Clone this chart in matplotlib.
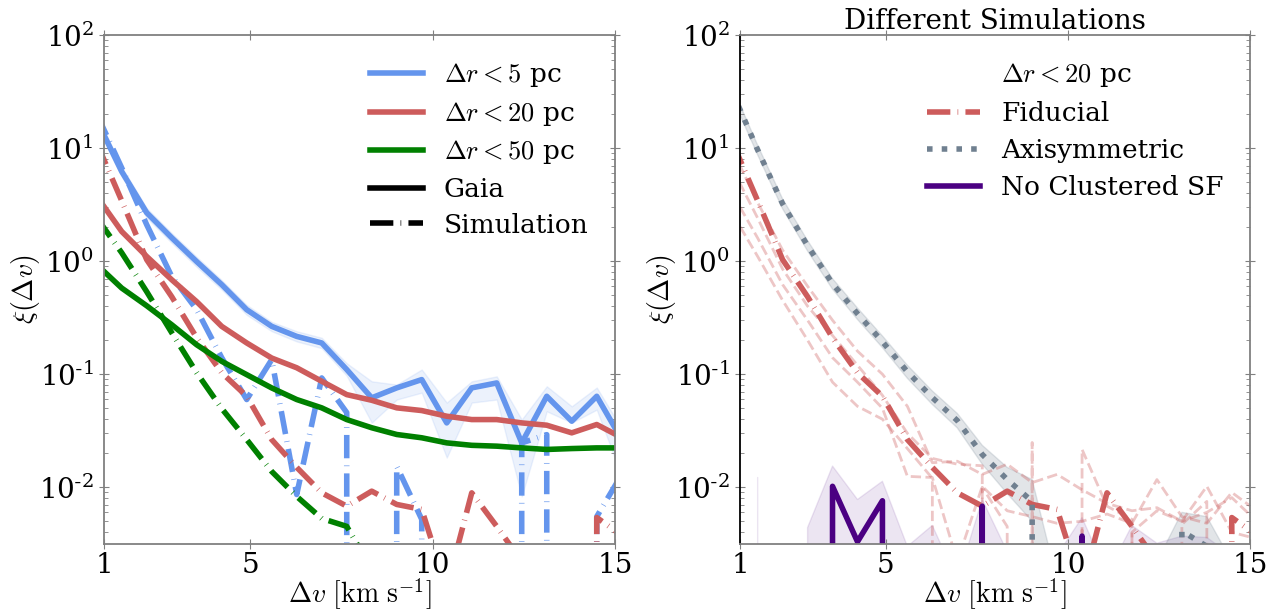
import numpy as np
import matplotlib
matplotlib.use('Agg')
import matplotlib.pyplot as plt
from matplotlib.lines import Line2D
from matplotlib.ticker import FuncFormatter, LogLocator

plt.rcParams['font.family'] = ['DejaVu Serif']
plt.rcParams['mathtext.fontset'] = 'cm'

# ---------------- data ----------------
dv = [0.800, 1.485, 2.170, 2.855, 3.540, 4.225, 4.910, 5.595, 6.280, 6.965, 7.650,
      8.335, 9.020, 9.705, 10.390, 11.075, 11.760, 12.445, 13.130, 13.815, 14.500, 15.185]

gaia_5 = [17.7, 6.2, 2.68, 1.61, 0.99, 0.62, 0.372, 0.265, 0.216, 0.189, 0.110,
          0.0618, 0.0757, 0.0896, 0.0371, 0.0757, 0.0837, 0.0247, 0.0638, 0.0384, 0.0638, 0.0264]
gaia_5_hi = [19.5, 6.8, 2.95, 1.77, 1.09, 0.68, 0.41, 0.29, 0.24, 0.21, 0.125,
             0.0865, 0.081, 0.110, 0.0561, 0.0865, 0.0957, 0.0397, 0.0782, 0.052, 0.0762, 0.033]
gaia_5_lo = [16.0, 5.6, 2.42, 1.45, 0.89, 0.56, 0.335, 0.24, 0.195, 0.17, 0.097,
             0.0373, 0.0597, 0.0687, 0.0183, 0.0561, 0.0597, 0.0083, 0.047, 0.0373, 0.0486, 0.0125]
gaia_20 = [3.75, 1.83, 1.10, 0.685, 0.438, 0.265, 0.189, 0.139, 0.114, 0.0866, 0.066,
           0.0588, 0.0504, 0.0477, 0.0425, 0.0397, 0.0397, 0.0371, 0.0354, 0.0303, 0.0359, 0.0275]
gaia_50 = [0.933, 0.578, 0.403, 0.274, 0.182, 0.130, 0.0991, 0.0756, 0.0597, 0.0504, 0.0397,
           0.0336, 0.0293, 0.0274, 0.0247, 0.0235, 0.0231, 0.0223, 0.0216, 0.0220, 0.0223, 0.0223]

sim_5 = [20.0, 6.68, 2.10, 0.733, 0.372, 0.140, 0.0597, 0.1346, 0.00863, 0.0927, 0.0458,
         0, 0.01535, 0.0052, 0, 0, 0, 0.0247, 0.0292, 0, 0.0055, 0.013]
sim_20 = [11.1, 3.42, 1.03, 0.485, 0.210, 0.103, 0.0638, 0.0264, 0.0150, 0.00893, 0.00681,
          0.00924, 0.00705, 0.00637, 0.00128, 0.00893, 0.00451, 0.0022, 0, 0, 0.0054, 0.00375]
sim_50 = [2.42, 1.186, 0.537, 0.233, 0.103, 0.0497, 0.0264, 0.0138, 0.0083, 0.0053, 0.00451,
          0.00188, 0, 0, 0, 0, 0, 0, 0, 0, 0, 0]

# right panel
fiducial = sim_20
fid_other_a = [9.5, 3.3, 1.25, 0.60, 0.30, 0.16, 0.10, 0.052, 0.0165, 0.017, 0.013,
               0.016, 0.011, 0.013, 0.0095, 0.0072, 0.0062, 0.0066, 0.0050, 0.0102, 0.0040, 0.0035]
fid_other_b = [6.5, 2.4, 0.85, 0.40, 0.22, 0.12, 0.065, 0.030, 0.018, 0.016, 0.0155,
               0, 0.0249, 0, 0.0216, 0.0068, 0.0052, 0, 0.0047, 0.0075, 0, 0.0035]
fid_other_c = [3.9, 1.6, 0.62, 0.30, 0.14, 0.085, 0.050, 0.0125, 0.0122, 0.0022, 0.0102,
               0.0062, 0.0055, 0.0048, 0.0050, 0.0058, 0.0048, 0.0117, 0.0055, 0.0048, 0.0090, 0.0062]
fid_other_d = [2.6, 1.1, 0.45, 0.20, 0.085, 0.052, 0.040, 0.022, 0.012, 0, 0.010,
               0.0045, 0, 0, 0.0042, 0, 0.0040, 0.0062, 0.0050, 0.0060, 0.0081, 0.0050]

axisym = [30.8, 9.64, 3.21, 1.37, 0.631, 0.343, 0.194, 0.105, 0.0621, 0.0389, 0.0195,
          0.0117, 0.0075, 0, 0, 0, 0, 0, 0.0041, 0.0030, 0, 0]
axisym_hi = [34.0, 10.6, 3.55, 1.52, 0.70, 0.385, 0.218, 0.12, 0.071, 0.045, 0.0235,
             0.0150, 0.0117, 0.0015, 0, 0, 0, 0.0022, 0.0060, 0.0055, 0.0022, 0]
axisym_lo = [27.5, 8.7, 2.9, 1.23, 0.565, 0.305, 0.172, 0.092, 0.054, 0.0335, 0.0160,
             0.0088, 0.0050, 0, 0, 0, 0, 0, 0.0028, 0.0020, 0, 0]

noclust = [0, 0, 0, 0, 0.0102, 0.0033, 0.0076, 0, 0, 0, 0.0068,
           0, 0, 0, 0.0037, 0, 0, 0, 0, 0, 0, 0]
noclust_hi = [0, 0.0122, 0, 0.0044, 0.0154, 0.0078, 0.0113, 0.0030, 0.0046, 0.0015, 0.0078,
              0.0027, 0, 0.0025, 0.0054, 0.0017, 0.0046, 0.0032, 0.0037, 0.0036, 0.0025, 0.0020]
noclust_lo = [0, 0, 0, 0, 0, 0, 0, 0, 0, 0, 0,
              0, 0, 0, 0, 0, 0, 0, 0, 0, 0, 0]

xticks = [1, 5, 10, 15]

# ---------------- style ----------------
c_blue = 'cornflowerblue'
c_red = 'indianred'
c_green = 'green'
c_axi = 'slategray'
c_pur = 'indigo'
simls = (0, (4.2, 1.3, 0.12, 1.3))
LW = 4


def logfmt(y, pos):
    e = int(np.round(np.log10(y)))
    if e < 0:
        return r'$\mathdefault{10^{\text{-}%d}}$' % (-e)
    return r'$\mathdefault{10^{%d}}$' % e


fig = plt.figure(figsize=(12.72, 6.10), dpi=100)
axL = fig.add_axes([104/1272, 1-544/610, 511/1272, 509/610])
axR = fig.add_axes([740/1272, 1-544/610, 510/1272, 509/610])

for ax in (axL, axR):
    ax.set_yscale('log')
    ax.set_xlim(1, 15)
    ax.set_ylim(3.15e-3, 100)
    ax.set_xticks(xticks)
    ax.set_xticklabels([str(t) for t in xticks])
    ax.yaxis.set_major_locator(LogLocator(base=10, numticks=10))
    ax.yaxis.set_major_formatter(FuncFormatter(logfmt))
    ax.tick_params(which='major', direction='inout', length=7, labelsize=20,
                   top=True, right=True, color='gray', pad=4)
    ax.tick_params(axis='x', which='major', pad=2)
    ax.tick_params(which='minor', direction='in', length=3, top=True, right=True, color='gray')
    for s in ax.spines.values():
        s.set_color('gray')
        s.set_linewidth(1.3)
    ax.set_xlabel(r'$\Delta v\ [\mathrm{km\ s^{-1}}]$', fontsize=20, labelpad=-2)
    ax.set_ylabel(r'$\xi(\Delta v)$', fontsize=20, labelpad=-2)
axR.spines['left'].set_color('black')

# ---- left panel ----
axL.fill_between(dv, gaia_5_lo, gaia_5_hi, color=c_blue, alpha=0.12)
axL.plot(dv, sim_5, color=c_blue, lw=LW, ls=simls)
axL.plot(dv, sim_20, color=c_red, lw=LW, ls=simls)
axL.plot(dv, sim_50, color=c_green, lw=LW, ls=simls)
axL.plot(dv, gaia_5, color=c_blue, lw=LW)
axL.plot(dv, gaia_20, color=c_red, lw=LW)
axL.plot(dv, gaia_50, color=c_green, lw=LW)

hL = [Line2D([], [], color=c_blue, lw=LW, label=r'$\Delta r < 5$ pc'),
      Line2D([], [], color=c_red, lw=LW, label=r'$\Delta r < 20$ pc'),
      Line2D([], [], color=c_green, lw=LW, label=r'$\Delta r < 50$ pc'),
      Line2D([], [], color='black', lw=LW, label='Gaia'),
      Line2D([], [], color='black', lw=LW, ls=simls, label='Simulation')]
axL.legend(handles=hL, loc='upper right', frameon=False, fontsize=19,
           labelspacing=0.4, borderaxespad=0.6)

# ---- right panel ----
axR.fill_between(dv, noclust_lo, noclust_hi, color=c_pur, alpha=0.1)
axR.fill_between(dv, axisym_lo, axisym_hi, color=c_axi, alpha=0.2)
for other in (fid_other_a, fid_other_b, fid_other_c, fid_other_d):
    axR.plot(dv, other, color=c_red, lw=2, ls='--', alpha=0.35)
axR.plot(dv, fiducial, color=c_red, lw=LW, ls=simls)
axR.plot(dv, axisym, color=c_axi, lw=LW, ls=':')
axR.plot(dv, noclust, color=c_pur, lw=LW)
axR.set_title('Different Simulations', fontsize=20, pad=4)

hR = [Line2D([], [], color='none', lw=0, label=r'$\Delta r < 20$ pc'),
      Line2D([], [], color=c_red, lw=LW, ls=simls, label='Fiducial'),
      Line2D([], [], color=c_axi, lw=LW, ls=':', label='Axisymmetric'),
      Line2D([], [], color=c_pur, lw=LW, label='No Clustered SF')]
axR.legend(handles=hR, loc='upper right', frameon=False, fontsize=19,
           labelspacing=0.45, borderaxespad=0.6)

fig.savefig('out.png', dpi=100)
